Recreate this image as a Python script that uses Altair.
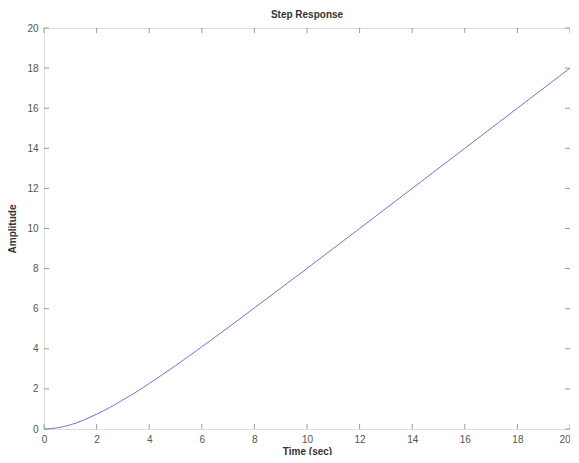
import altair as alt
import pandas as pd

# Values
time_s = [0, 0.25, 0.5, 0.75, 1, 1.25, 1.5, 2, 2.5, 3, 3.5, 4, 5, 6, 7, 8, 10, 12, 14, 16, 18, 20]
amplitude = [0, 0.02, 0.06, 0.12, 0.21, 0.31, 0.44, 0.74, 1.07, 1.45, 1.84, 2.27, 3.16, 4.10,
             5.06, 6.04, 8.01, 10.0, 12.0, 14.0, 16.0, 18.0]
x_ticks = [0, 2, 4, 6, 8, 10, 12, 14, 16, 18, 20]
y_ticks = [0, 2, 4, 6, 8, 10, 12, 14, 16, 18, 20]

W, H = 526, 401
TL = 5
FRAME = "#9a9a9a"
LABEL = "#555555"

df = pd.DataFrame({"t": time_s, "y": amplitude})
xt = pd.DataFrame({"v": x_ticks})
yt = pd.DataFrame({"v": y_ticks})

xscale = alt.Scale(domain=[0, 20], nice=False, zero=False)
yscale = alt.Scale(domain=[0, 20], nice=False, zero=False)

line = alt.Chart(df).mark_line(color="#7373d2", strokeWidth=1, interpolate="monotone").encode(
    x=alt.X("t:Q", scale=xscale,
            axis=alt.Axis(title="Time (sec)", values=x_ticks, ticks=False, domain=False,
                          labelColor=LABEL, labelFontSize=10, labelPadding=5, labelFont="Liberation Sans",
                          labelAlign=alt.condition("datum.value == 20", alt.value("right"), alt.value("center")),
                          titleFont="Liberation Sans", titleFontSize=10, titleColor="#333333",
                          titleFontWeight="bold", titlePadding=2, grid=False, labelFlush=False)),
    y=alt.Y("y:Q", scale=yscale,
            axis=alt.Axis(title="Amplitude", values=y_ticks, ticks=False, domain=False,
                          labelColor=LABEL, labelFontSize=10, labelPadding=6, labelFont="Liberation Sans",
                          titleFont="Liberation Sans", titleFontSize=10, titleColor="#333333",
                          titleFontWeight="bold", titlePadding=9, grid=False, labelFlush=False)),
)

tick_bottom = alt.Chart(xt).mark_rule(color=FRAME, strokeWidth=1).encode(
    x=alt.X("v:Q", scale=xscale), y=alt.value(H), y2=alt.value(H - TL))
tick_top = alt.Chart(xt).mark_rule(color=FRAME, strokeWidth=1).encode(
    x=alt.X("v:Q", scale=xscale), y=alt.value(0), y2=alt.value(TL))
tick_left = alt.Chart(yt).mark_rule(color=FRAME, strokeWidth=1).encode(
    y=alt.Y("v:Q", scale=yscale), x=alt.value(0), x2=alt.value(TL))
tick_right = alt.Chart(yt).mark_rule(color=FRAME, strokeWidth=1).encode(
    y=alt.Y("v:Q", scale=yscale), x=alt.value(W), x2=alt.value(W - TL))

chart = alt.layer(line, tick_bottom, tick_top, tick_left, tick_right).properties(
    width=W, height=H,
    title=alt.TitleParams("Step Response", fontSize=10, font="Liberation Sans", fontWeight="bold",
                          color="#333333", offset=3, anchor="middle"),
    autosize=alt.AutoSizeParams(type="none"),
    padding={"left": 36, "top": 20, "right": 0, "bottom": 26},
).configure_view(stroke=FRAME, strokeWidth=1.5).configure(background="white")

chart.save("out.html", embed_options={"renderer": "svg", "actions": False})
